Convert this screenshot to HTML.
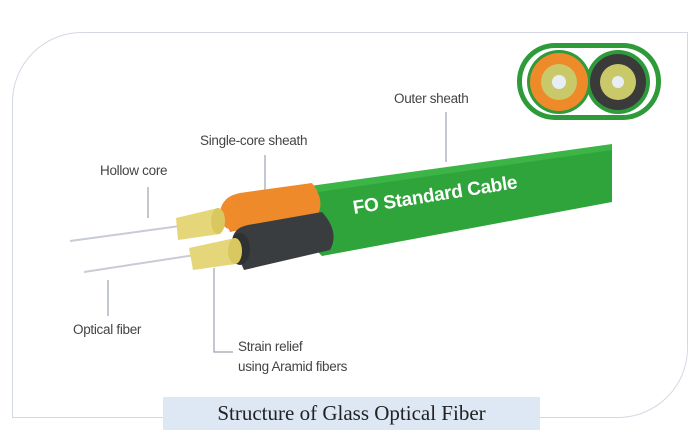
<!DOCTYPE html>
<html><head><style>
body{margin:0;width:700px;height:447px;background:#fff;position:relative;overflow:hidden;font-family:"Liberation Sans",sans-serif}
.frame{position:absolute;left:12px;top:32px;width:676px;height:386px;border:1.5px solid #d4d8e6;border-radius:70px 0 70px 0;box-sizing:border-box}
.lbl{position:absolute;font-size:13.5px;color:#444;white-space:nowrap;letter-spacing:-0.3px}
.cap{position:absolute;left:163px;top:397px;width:377px;height:33px;background:#dde8f4;font-family:"Liberation Serif",serif;font-size:21px;color:#222;text-align:center;line-height:33px}
</style></head><body>
<div class="frame"></div>
<svg width="700" height="447" style="position:absolute;left:0;top:0">
<g stroke="#9aa3ad" stroke-width="1.2" fill="none">
<line x1="446" y1="112" x2="446" y2="162"/>
<line x1="265" y1="155" x2="265" y2="190"/>
<line x1="148" y1="187" x2="148" y2="218"/>
<line x1="108" y1="280" x2="108" y2="316"/>
<polyline points="214,268 214,352 233,352"/>
</g>
<rect x="517" y="43" width="144" height="77" rx="38" fill="#2f9a3a"/>
<rect x="522" y="48" width="134" height="67" rx="33" fill="#fff"/>
<circle cx="559" cy="82" r="32" fill="#2f9a3a"/>
<circle cx="618" cy="82" r="32" fill="#2f9a3a"/>
<circle cx="559" cy="82" r="29" fill="#ee8a2a"/>
<circle cx="559" cy="82" r="18" fill="#c9c96a"/>
<circle cx="559" cy="82" r="7" fill="#e8eef5"/>
<circle cx="618" cy="82" r="28" fill="#3a3a3a"/>
<circle cx="618" cy="82" r="18" fill="#c9c96a"/>
<circle cx="618" cy="82" r="6" fill="#e8eef5"/>
<line x1="70" y1="241" x2="180" y2="226" stroke="#c8ccd4" stroke-width="2"/>
<line x1="84" y1="272" x2="195" y2="255" stroke="#c8ccd4" stroke-width="2"/>
<path d="M302,194 L612,148 L612,202 L322,256 Q294,230 302,194Z" fill="#2ea43a"/>
<path d="M310,186 L612,144 L612,150 L304,194Z" fill="#3cb446"/>
<path d="M222,213 Q220,197 240,193 L312,183 Q325,200 318,214 L230,232Z" fill="#ee8a2a"/>
<ellipse cx="230" cy="214" rx="10" ry="15" fill="#f08b2c"/>
<path d="M232,243 Q232,228 248,225 L322,212 Q340,232 330,250 L244,270Z" fill="#3a3d3f"/>
<ellipse cx="240" cy="249" rx="10" ry="16" fill="#2f3133"/>
<path d="M176,218 L218,208 Q228,222 220,234 L178,240Z" fill="#e6d67a"/>
<ellipse cx="218" cy="221" rx="7" ry="13" fill="#d9c860"/>
<path d="M189,248 L235,238 Q244,252 236,264 L193,270Z" fill="#e6d67a"/>
<ellipse cx="235" cy="251" rx="7" ry="13" fill="#d9c860"/>
<text x="0" y="0" transform="translate(354,214) rotate(-9)" fill="#fff" font-family="Liberation Sans,sans-serif" font-size="19" font-weight="bold" letter-spacing="-0.3">FO Standard Cable</text>
</svg>
<div class="lbl" style="left:394px;top:91px">Outer sheath</div>
<div class="lbl" style="left:200px;top:133px">Single-core sheath</div>
<div class="lbl" style="left:100px;top:163px">Hollow core</div>
<div class="lbl" style="left:73px;top:322px">Optical fiber</div>
<div class="lbl" style="left:238px;top:339px">Strain relief</div>
<div class="lbl" style="left:238px;top:359px">using Aramid fibers</div>
<div class="cap">Structure of Glass Optical Fiber</div>
</body></html>
